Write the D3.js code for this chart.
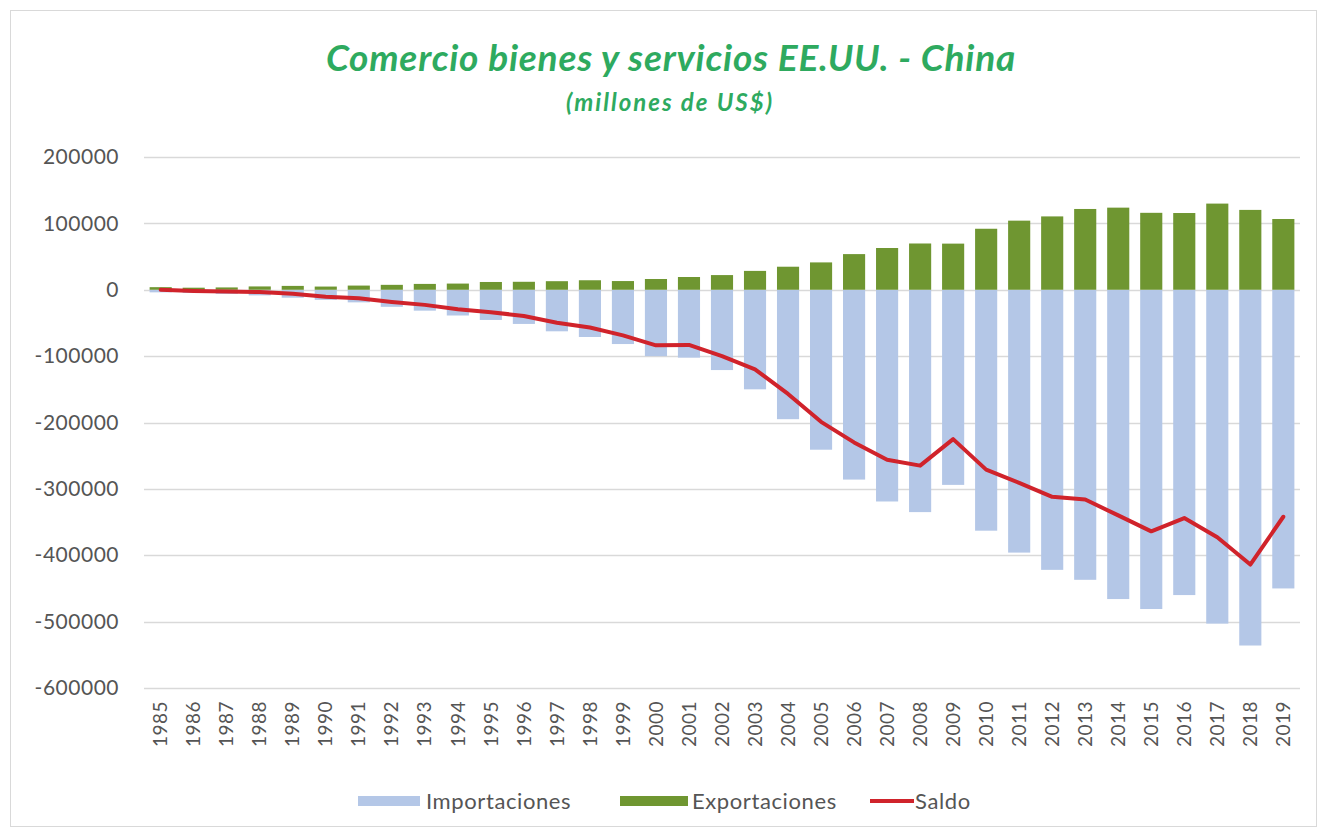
<!DOCTYPE html>
<html>
<head>
<meta charset="utf-8">
<script src="https://cdn.jsdelivr.net/npm/d3@7"></script>
<style>
  body { margin: 0; background: #fff; }
  text { font-family: Lato, "Open Sans", sans-serif; }
</style>
</head>
<body>
<svg id="canvas" width="1322" height="838"></svg>
<script>
(function (d3) {

    const years = d3.range(1985, 2020).map(String);

    // millones de US$
    const importaciones = [3900, 4800, 6300, 8500, 12000, 15200, 19000, 25700, 31500, 38800,
        45500, 51500, 62600, 71200, 81800, 100000, 102300, 121000, 150000, 195000,
        241000, 286000, 319000, 335000, 294000, 363000, 396000, 422000, 437000, 466000,
        481000, 460000, 503000, 536000, 450000];
    const exportaciones = [3900, 3100, 3500, 5000, 5800, 4800, 6300, 7400, 8800, 9300,
        11700, 12000, 12900, 14300, 13100, 16200, 19200, 22100, 28400, 34700,
        41200, 53700, 62900, 69700, 69500, 91900, 104100, 110500, 121700, 123700,
        115900, 115600, 129800, 120300, 106600];
    const saldo = [0, -1700, -2800, -3500, -6200, -10400, -12700, -18300, -22800, -29500,
        -33800, -39500, -49700, -56900, -68700, -83800, -83100, -100000, -120000, -157000,
        -199000, -230000, -256000, -265000, -225000, -271000, -291000, -312000, -316000, -340000,
        -364000, -344000, -373000, -414000, -342000];

    const yTicks = [200000, 100000, 0, -100000, -200000, -300000, -400000, -500000, -600000];

    const svg = d3.select('#canvas');

    // marco exterior
    svg.append('rect')
        .attr('x', 10.5).attr('y', 10.5)
        .attr('width', 1306).attr('height', 816)
        .attr('fill', 'none').attr('stroke', '#d9d9d9');

    let x = d3.scaleBand().domain(years).range([144, 1300]).paddingInner(0.33).paddingOuter(0.17);
    let y = d3.scaleLinear().domain([-600000, 200000]).range([688, 157]);

    // grid
    svg.append('g').selectAll('line')
        .data(yTicks)
        .enter().append('line')
        .attr('x1', 144).attr('x2', 1300)
        .attr('y1', (d) => Math.round(y(d)) + 0.5)
        .attr('y2', (d) => Math.round(y(d)) + 0.5)
        .attr('stroke', '#d9d9d9').attr('stroke-width', 1.5);

    let yAxis = svg.append('g')
        .attr('transform', 'translate(119,0)')
        .call(d3.axisLeft(y).tickValues(yTicks).tickSize(0).tickPadding(0).tickFormat((d) => String(d)));
    yAxis.select('.domain').remove();
    yAxis.selectAll('text')
        .attr('fill', '#555')
        .style('font-size', '21px')
        .style('letter-spacing', '0.5px')
        .style('font-family', 'Lato, sans-serif');

    // barras
    svg.append('g').selectAll('rect')
        .data(years)
        .enter().append('rect')
        .attr('x', (d) => x(d))
        .attr('width', x.bandwidth())
        .attr('y', y(0))
        .attr('height', (d, i) => y(-importaciones[i]) - y(0))
        .attr('fill', '#b4c7e7');

    svg.append('g').selectAll('rect')
        .data(years)
        .enter().append('rect')
        .attr('x', (d) => x(d))
        .attr('width', x.bandwidth())
        .attr('y', (d, i) => y(exportaciones[i]))
        .attr('height', (d, i) => y(0) - y(exportaciones[i]))
        .attr('fill', '#6f9631');

    let line = d3.line()
        .x((d, i) => x(years[i]) + x.bandwidth() / 2)
        .y((d) => y(d));

    svg.append('path')
        .datum(saldo)
        .attr('d', line)
        .attr('fill', 'none')
        .attr('stroke', '#d0232b')
        .attr('stroke-width', 4)
        .attr('stroke-linejoin', 'round')
        .attr('stroke-linecap', 'round');

    // etiquetas eje x
    let xAxis = svg.append('g')
        .attr('transform', 'translate(0,701)')
        .call(d3.axisBottom(x).tickSize(0).tickPadding(0));
    xAxis.select('.domain').remove();
    xAxis.selectAll('text')
        .attr('transform', 'rotate(-90)')
        .attr('x', 0).attr('y', 0).attr('dy', '0.35em')
        .attr('text-anchor', 'end')
        .attr('fill', '#555')
        .style('font-size', '19px')
        .style('letter-spacing', '0.5px')
        .style('font-family', 'Lato, sans-serif');

    // titulo
    svg.append('text')
        .attr('x', 671).attr('y', 71)
        .attr('text-anchor', 'middle')
        .attr('fill', '#2eaa5f')
        .style('font-size', '37px').style('font-weight', 'bold').style('font-style', 'italic')
        .style('letter-spacing', '0.8px')
        .text('Comercio bienes y servicios EE.UU. - China');
    svg.append('text')
        .attr('x', 670).attr('y', 111)
        .attr('text-anchor', 'middle')
        .attr('fill', '#2eaa5f')
        .style('font-size', '24px').style('font-weight', 'bold').style('font-style', 'italic')
        .style('letter-spacing', '2px')
        .text('(millones de US$)');

    // leyenda
    let legend = svg.append('g').attr('transform', 'translate(0,801)');
    legend.append('rect').attr('x', 358).attr('y', -5).attr('width', 62).attr('height', 10).attr('fill', '#b4c7e7');
    legend.append('text').attr('x', 426).attr('y', 0).attr('dy', '0.35em')
        .attr('fill', '#555').style('font-size', '22px').style('letter-spacing', '0.6px').text('Importaciones');
    legend.append('rect').attr('x', 620).attr('y', -5).attr('width', 68).attr('height', 10).attr('fill', '#6f9631');
    legend.append('text').attr('x', 692).attr('y', 0).attr('dy', '0.35em')
        .attr('fill', '#555').style('font-size', '22px').style('letter-spacing', '0.6px').text('Exportaciones');
    legend.append('line').attr('x1', 870).attr('x2', 914).attr('y1', 0).attr('y2', 0)
        .attr('stroke', '#d0232b').attr('stroke-width', 4);
    legend.append('text').attr('x', 915).attr('y', 0).attr('dy', '0.35em')
        .attr('fill', '#555').style('font-size', '22px').style('letter-spacing', '0.6px').text('Saldo');

})(d3)
</script>
</body>
</html>
